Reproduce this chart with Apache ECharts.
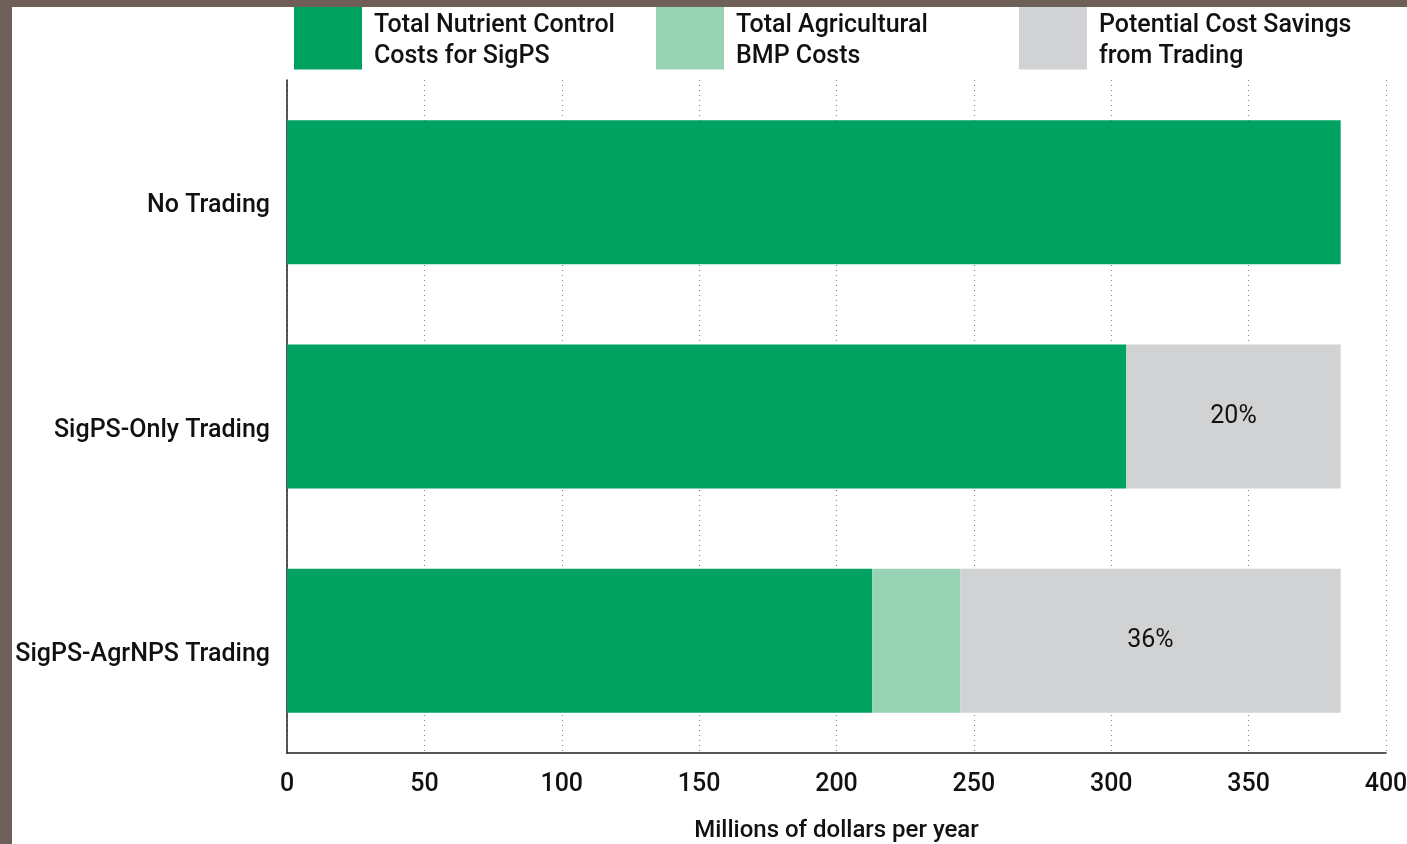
<!DOCTYPE html>
<html>
<head>
<meta charset="utf-8">
<script src="https://cdn.jsdelivr.net/npm/echarts@6/dist/echarts.min.js"></script>
<style>
  html, body { margin: 0; padding: 0; width: 1407px; height: 844px; overflow: hidden; background: #6e6058; }
  #chart { position: absolute; left: 12px; top: 7px; width: 1395px; height: 837px; background: #fff; }
</style>
</head>
<body>
<div id="chart"></div>
<script>
const categories = ["No Trading", "SigPS-Only Trading", "SigPS-AgrNPS Trading"];
const sigpsCosts = [383.5, 305.5, 213];
const agBmpCosts = [0, 0, 32];
const savings    = [0, 78, 138.5];
const savingsPct = ["", "20%", "36%"];
const xTicks     = [0, 50, 100, 150, 200, 250, 300, 350, 400];

const names = [
  "Total Nutrient Control\nCosts for SigPS",
  "Total Agricultural\nBMP Costs",
  "Potential Cost Savings\nfrom Trading",
];
const colors = ["#00a261", "#98d3b6", "#d1d2d4"];
const FONT = "Roboto, 'DejaVu Sans', sans-serif";
const INK = "#111";

const chart = echarts.init(document.getElementById("chart"), null, { renderer: "canvas" });

// one legend per item so each can sit where it does in the original
const legendLeft = [282, 644, 1007];
const legend = names.map((n, i) => ({
  data: [n],
  left: legendLeft[i],
  top: -3.5,
  padding: 0,
  selectedMode: false,
  itemWidth: 68,
  itemHeight: 63,
  icon: "rect",
  // a thin empty first line nudges the two text lines down a little
  formatter: (name) => "{s| }\n" + name,
  textStyle: {
    fontFamily: FONT, fontSize: 25, fontWeight: 500, lineHeight: 31, color: INK,
    padding: [0, 0, 0, 7],
    rich: { s: { lineHeight: 7, fontSize: 4 } },
  },
}));

const segment = (name, data, color, extra) => Object.assign({
  name,
  type: "bar",
  stack: "total",
  data,
  barWidth: 144,
  itemStyle: { color },
  emphasis: { disabled: true },
}, extra || {});

chart.setOption({
  animation: false,
  legend,
  grid: { left: 275, right: 21, top: 73, bottom: 91, outerBoundsMode: "none" },
  xAxis: {
    type: "value",
    min: 0,
    max: 400,
    interval: 50,
    axisLine: { show: true, lineStyle: { color: "#222", width: 1.5 } },
    axisTick: { show: false },
    axisLabel: {
      fontFamily: FONT, fontSize: 25, fontWeight: 500, color: INK, margin: 19,
      formatter: (v) => xTicks.includes(v) ? String(v) : "",
    },
    splitLine: { show: true, lineStyle: { color: "#8a8a8a", type: [1, 4], width: 1.2 } },
    name: "Millions of dollars per year",
    nameLocation: "middle",
    nameGap: 66,
    nameTextStyle: { fontFamily: FONT, fontSize: 24, fontWeight: 500, color: INK },
  },
  yAxis: {
    type: "category",
    data: categories,
    inverse: true,
    axisLine: { show: true, lineStyle: { color: "#222", width: 1.5 } },
    axisTick: { show: false },
    axisLabel: {
      fontFamily: FONT, fontSize: 25, fontWeight: 500, color: INK, margin: 17,
      verticalAlign: "top", lineHeight: 28,
    },
    splitLine: { show: false },
  },
  series: [
    segment(names[0], sigpsCosts, colors[0]),
    segment(names[1], agBmpCosts, colors[1]),
    segment(names[2], savings, colors[2], {
      label: {
        show: true,
        position: "inside",
        fontFamily: FONT,
        fontSize: 25,
        color: INK,
        formatter: (p) => savingsPct[p.dataIndex],
      },
    }),
  ],
});
</script>
</body>
</html>
